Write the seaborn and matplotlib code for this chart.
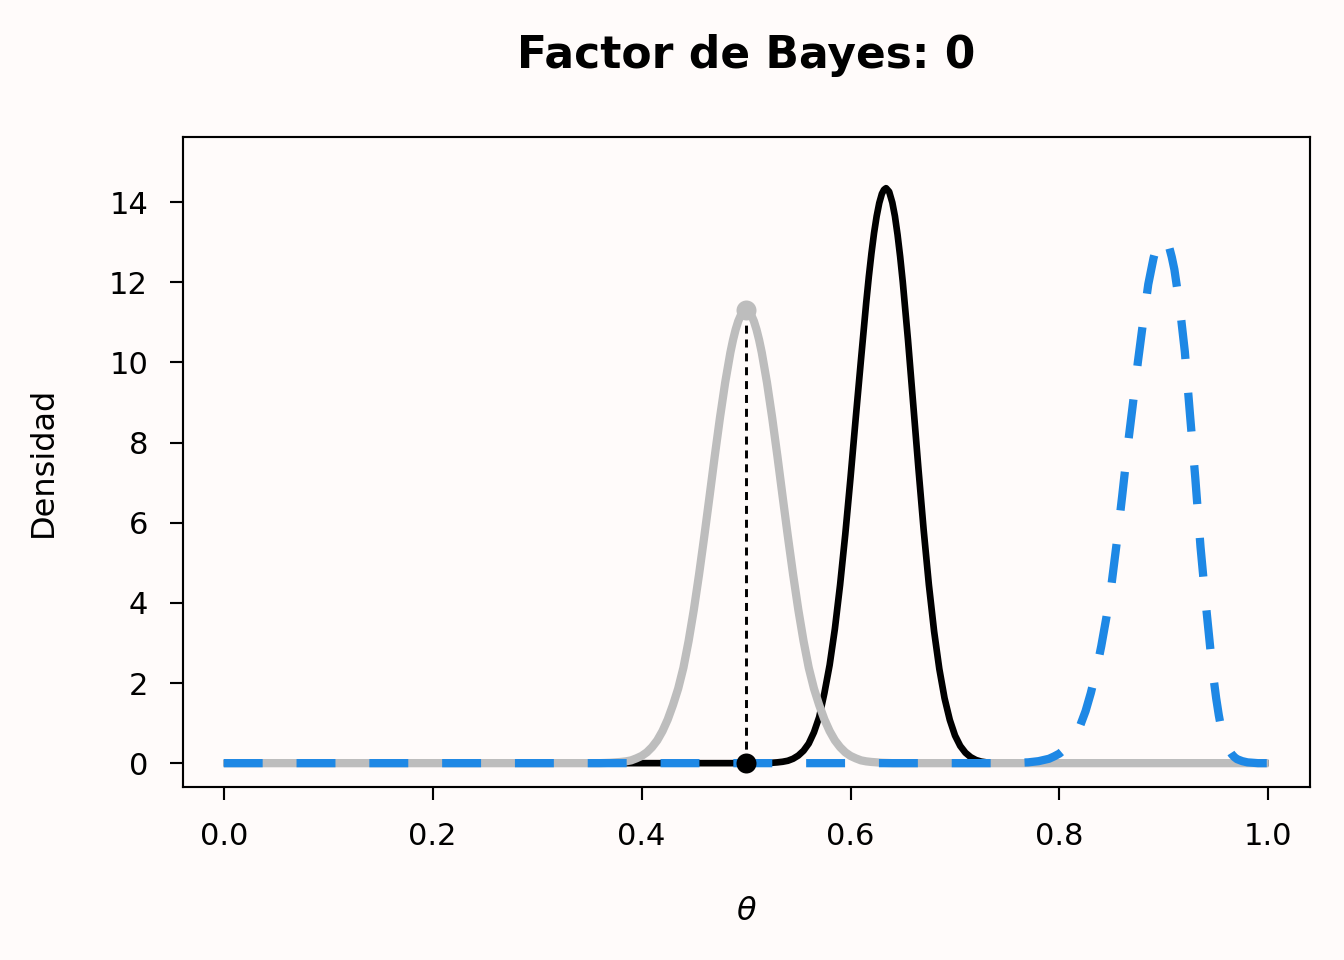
import matplotlib
matplotlib.use("Agg")
import matplotlib.pyplot as plt
import seaborn as sns

# ---- data ----
prior_theta = [0.0, 0.36, 0.37, 0.38, 0.385, 0.39, 0.395, 0.40, 0.405, 0.41, 0.415, 0.42,
               0.425, 0.43, 0.435, 0.44, 0.445, 0.45, 0.455, 0.46, 0.465, 0.47, 0.475,
               0.48, 0.485, 0.4875, 0.49, 0.4925, 0.495, 0.4975, 0.50, 0.5025, 0.505,
               0.5075, 0.51, 0.5125, 0.515, 0.52, 0.525, 0.53, 0.535, 0.54, 0.545, 0.55,
               0.555, 0.56, 0.565, 0.57, 0.575, 0.58, 0.585, 0.59, 0.595, 0.60, 0.605,
               0.61, 0.615, 0.62, 0.63, 0.64, 1.0]
prior_dens = [0.0, 0.0, 0.01, 0.03, 0.045, 0.07, 0.12, 0.18, 0.27, 0.40, 0.57, 0.80,
              1.09, 1.45, 1.86, 2.38, 3.05, 3.83, 4.71, 5.66, 6.65, 7.66, 8.62,
              9.50, 10.25, 10.56, 10.82, 11.03, 11.18, 11.27, 11.30, 11.27, 11.18,
              11.03, 10.82, 10.56, 10.25, 9.50, 8.62, 7.66, 6.65, 5.66, 4.71, 3.83,
              3.05, 2.38, 1.86, 1.45, 1.09, 0.80, 0.57, 0.40, 0.27, 0.18, 0.12,
              0.07, 0.045, 0.03, 0.01, 0.0, 0.0]

post_theta = [0.0, 0.52, 0.525, 0.53, 0.535, 0.54, 0.545, 0.55, 0.555, 0.56, 0.565, 0.57,
              0.575, 0.58, 0.585, 0.59, 0.595, 0.60, 0.605, 0.61, 0.615, 0.6175, 0.62,
              0.6225, 0.625, 0.6275, 0.63, 0.632, 0.634, 0.637, 0.64, 0.6425, 0.645,
              0.6475, 0.65, 0.655, 0.66, 0.665, 0.67, 0.675, 0.68, 0.685, 0.69, 0.695,
              0.70, 0.705, 0.71, 0.715, 0.72, 0.725, 0.73, 0.735, 0.74, 1.0]
post_dens = [0.0, 0.0, 0.01, 0.02, 0.035, 0.06, 0.11, 0.19, 0.31, 0.49, 0.77, 1.15,
             1.75, 2.45, 3.35, 4.45, 5.72, 7.13, 8.62, 10.07, 11.49, 12.14, 12.72,
             13.23, 13.65, 13.98, 14.21, 14.31, 14.35, 14.26, 13.99, 13.65, 13.19,
             12.64, 12.01, 10.56, 8.96, 7.35, 5.82, 4.45, 3.29, 2.35, 1.62, 1.08,
             0.69, 0.43, 0.26, 0.15, 0.08, 0.04, 0.02, 0.01, 0.0, 0.0]

alt_theta = [0.0, 0.75, 0.76, 0.77, 0.78, 0.785, 0.79, 0.795, 0.80, 0.805, 0.81, 0.815,
             0.82, 0.825, 0.83, 0.835, 0.84, 0.845, 0.85, 0.855, 0.86, 0.865, 0.87,
             0.875, 0.88, 0.885, 0.89, 0.8925, 0.895, 0.897, 0.899, 0.902, 0.905,
             0.9075, 0.91, 0.915, 0.92, 0.925, 0.93, 0.935, 0.94, 0.9425, 0.945,
             0.9475, 0.95, 0.9525, 0.955, 0.9575, 0.96, 0.9625, 0.965, 0.9675, 0.97,
             0.975, 0.98, 0.99, 1.0]
alt_dens = [0.0, 0.0, 0.01, 0.02, 0.05, 0.08, 0.11, 0.17, 0.24, 0.35, 0.48, 0.68,
            0.95, 1.30, 1.75, 2.28, 2.92, 3.65, 4.50, 5.54, 6.66, 7.84, 8.90,
            10.00, 11.00, 11.95, 12.60, 12.85, 13.03, 13.09, 13.12, 13.05, 12.88,
            12.63, 12.32, 11.43, 10.27, 8.68, 7.12, 5.40, 4.00, 3.35, 2.70,
            2.12, 1.62, 1.20, 0.85, 0.63, 0.45, 0.32, 0.22, 0.15, 0.10,
            0.05, 0.02, 0.0, 0.0]

null_theta = 0.5
null_prior = 11.30
null_post = 0.0

title_text = "Factor de Bayes: 0"
x_ticks = [0.0, 0.2, 0.4, 0.6, 0.8, 1.0]
x_tick_labels = ["0.0", "0.2", "0.4", "0.6", "0.8", "1.0"]
y_ticks = [0, 2, 4, 6, 8, 10, 12, 14]

# ---- style ----
bg = "#FFFBFA"
sns.set_style("ticks", {"text.color": "black", "axes.labelcolor": "black",
                        "xtick.color": "black", "ytick.color": "black",
                        "axes.edgecolor": "black"})
plt.rcParams["font.family"] = ["DejaVu Sans"]
plt.rcParams["lines.scale_dashes"] = False

fig = plt.figure(figsize=(7, 5), dpi=192, facecolor=bg)
ax = fig.add_axes([0.136, 0.180, 0.839, 0.677])
ax.set_facecolor(bg)

# posterior (black), prior (gray), alternative (blue dashed)
sns.lineplot(x=post_theta, y=post_dens, ax=ax, color="black", linewidth=2.5,
             estimator=None, sort=False, zorder=2)
sns.lineplot(x=prior_theta, y=prior_dens, ax=ax, color="#BDBDBD", linewidth=3.1,
             estimator=None, sort=False, zorder=3)
sns.lineplot(x=alt_theta, y=alt_dens, ax=ax, color="#1E88E5", linewidth=3.1,
             estimator=None, sort=False, zorder=4)
for ln in ax.lines:
    ln.set_solid_capstyle("butt")
    ln.set_solid_joinstyle("round")
ax.lines[-1].set_dashes((14.6, 12.7))
ax.lines[-1].set_dash_capstyle("butt")

# vertical dashed line at theta0 and points
ax.plot([null_theta, null_theta], [null_post, null_prior], color="black",
        linewidth=1.1, dashes=(3.0, 2.2), zorder=5)
ax.plot([null_theta], [null_prior], "o", color="#BDBDBD", markersize=7.5,
        markeredgewidth=0, zorder=6)
ax.plot([null_theta], [null_post], "o", color="black", markersize=7.5,
        markeredgewidth=0, zorder=6)

ax.set_xlim(-0.0392, 1.0402)
ax.set_ylim(-0.6, 15.62)
ax.set_xticks(x_ticks)
ax.set_xticklabels(x_tick_labels)
ax.set_yticks(y_ticks)

for s in ax.spines.values():
    s.set_visible(True)
    s.set_color("black")
    s.set_linewidth(0.8)
ax.tick_params(axis="both", direction="out", length=5, width=0.8, pad=8,
               labelsize=11.5, colors="black")

ax.set_xlabel(r"$\theta$", fontsize=12, labelpad=17, color="black")
ax.set_ylabel("Densidad", fontsize=12, labelpad=19, color="black")
ax.set_title(title_text, fontsize=16.5, fontweight="bold", pad=26, color="black")

fig.savefig("out.png", dpi=192, facecolor=bg)
